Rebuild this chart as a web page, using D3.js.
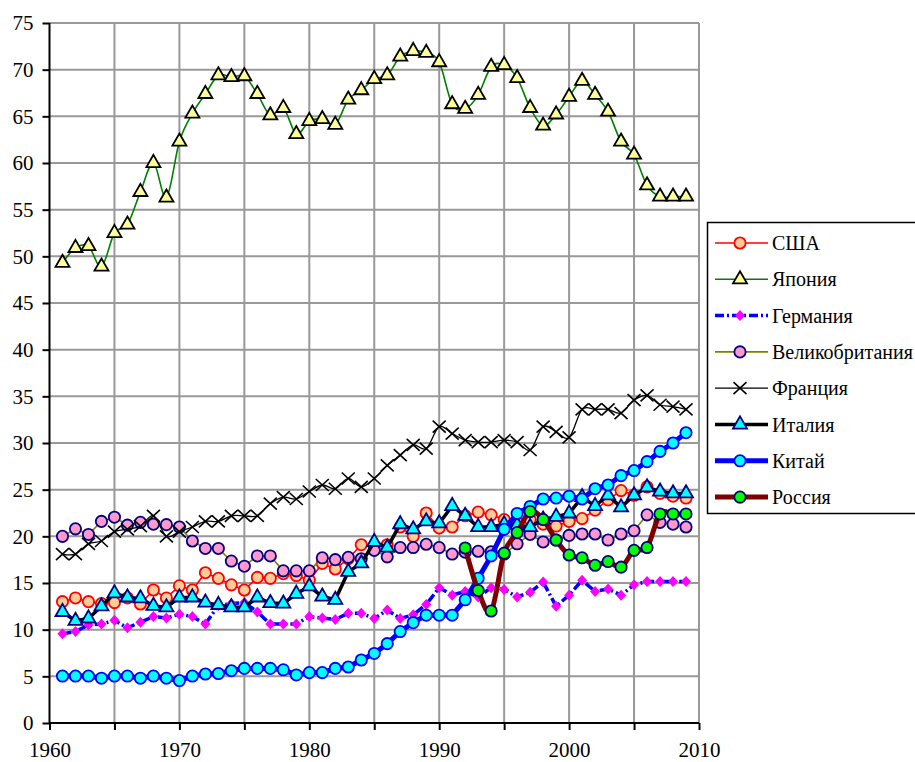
<!DOCTYPE html>
<html>
<head>
<meta charset="utf-8">
<script src="https://cdn.jsdelivr.net/npm/d3@7"></script>
<style>
  body { margin: 0; background: #fff; overflow: hidden; }
  svg { display: block; }
  svg text { font-family: "Liberation Serif", "Times New Roman", serif; }
</style>
</head>
<body>
<div id="chart"></div>
<script>
const years = d3.range(1961, 2010);
const russiaYears = d3.range(1992, 2010);
const xTicks = d3.range(1960, 2011, 5);
const yTicks = d3.range(0, 76, 5);

const usa = [13.0,13.4,13.0,12.8,12.9,13.4,12.75,14.25,13.4,14.7, 14.25,16.1,15.5,14.8,14.25,15.6,15.5,16.0,15.8,15.3,
  17.1,16.5,17.6,19.1,18.9,19.1,21.0,20.0,22.5,20.9, 21.0,22.2,22.6,22.3,21.8,21.5,21.8,21.3,21.1,21.6,
  21.9,22.8,23.9,24.9,24.4,25.3,24.6,24.3,24.1];
const japan = [49.3,50.9,51.1,48.9,52.5,53.4,56.9,60.0,56.3,62.3, 65.3,67.4,69.4,69.2,69.3,67.4,65.1,65.9,63.1,64.5,
  64.7,64.1,66.8,67.8,69.0,69.4,71.4,72.0,71.8,70.8, 66.3,65.8,67.3,70.3,70.5,69.1,65.9,64.0,65.2,67.1,
  68.8,67.3,65.5,62.3,60.9,57.6,56.4,56.4,56.4];
const germany = [9.55,9.8,10.5,10.6,11.0,10.2,10.8,11.4,11.25,11.65, 11.4,10.6,12.6,12.8,12.9,11.9,10.6,10.6,10.6,11.4,
  11.25,11.1,11.75,11.75,11.2,12.1,11.2,11.6,12.7,14.5, 13.7,14.1,13.5,14.5,14.3,13.5,14.0,15.1,12.5,13.7,
  15.3,14.1,14.35,13.7,14.8,15.15,15.15,15.15,15.15];
const uk = [20.0,20.8,20.2,21.6,22.05,21.2,21.5,21.3,21.25,21.0, 19.5,18.7,18.7,17.35,16.8,17.9,17.9,16.3,16.3,16.3,
  17.7,17.5,17.75,17.6,18.5,17.8,18.8,18.8,19.15,18.8, 18.1,18.3,18.4,18.35,18.1,19.2,20.2,19.4,19.6,20.1,
  20.25,20.25,19.6,20.25,20.6,22.3,21.5,21.3,21.0];
const france = [18.1,18.1,19.2,19.5,20.5,20.75,21.1,22.2,20.0,20.5, 21.0,21.6,21.6,22.2,22.2,22.2,23.5,24.2,24.0,24.8,
  25.5,25.1,26.2,25.3,26.2,27.6,28.7,29.8,29.4,31.75, 31.0,30.3,30.1,30.1,30.3,30.1,29.25,31.75,31.2,30.6,
  33.6,33.6,33.6,33.2,34.6,35.1,34.1,33.9,33.6];
const italy = [11.9,10.95,11.2,12.5,13.9,13.45,13.35,12.55,12.4,13.45, 13.45,12.9,12.65,12.4,12.4,13.45,12.85,12.8,13.85,14.65,
  13.55,13.2,16.2,17.1,19.4,18.8,21.3,20.75,21.6,21.4, 23.25,22.2,21.0,21.0,21.3,21.2,21.0,21.8,22.1,22.45,
  24.2,23.25,24.4,23.1,24.4,25.25,24.8,24.6,24.6];
const china = [5.03,5.03,5.03,4.8,5.03,5.03,4.8,5.03,4.8,4.55, 5.03,5.25,5.3,5.6,5.85,5.85,5.85,5.7,5.15,5.4,
  5.4,5.85,6.0,6.75,7.45,8.5,9.8,10.75,11.55,11.55, 11.55,13.2,15.5,17.9,20.75,22.45,23.2,24.0,24.1,24.3,
  24.0,25.1,25.5,26.5,27.05,28.0,29.1,30.0,31.1];
const russia = [18.75,14.2,12.0,18.2,20.4,22.65,21.8,19.6,18.0,17.7,16.9,17.3,16.7,18.5,18.8,22.4,22.4,22.4];

const width = 915;
const height = 762;
const margin = { top: 23, right: 216, bottom: 39, left: 49.5 };

const series = [
  { name: 'США', yrs: years, vals: usa, color: '#ff0000', w: 1.6, curve: d3.curveLinear, mark: 'circle', fill: '#ffcc99', mstroke: '#ff0000' },
  { name: 'Япония', yrs: years, vals: japan, color: '#008000', w: 1.6, curve: d3.curveCardinal.tension(0), mark: 'triangle', fill: '#ffff99', mstroke: '#000' },
  { name: 'Германия', yrs: years, vals: germany, color: '#0000ff', w: 3.5, dash: '9,3,2,3', curve: d3.curveLinear, mark: 'diamond', fill: '#ff00ff', mstroke: 'none' },
  { name: 'Великобритания', yrs: years, vals: uk, color: '#808000', w: 1.6, curve: d3.curveLinear, mark: 'circle', fill: '#ff99cc', mstroke: '#000080' },
  { name: 'Франция', yrs: years, vals: france, color: '#000', w: 1.3, curve: d3.curveCardinal.tension(0), mark: 'cross', fill: 'none', mstroke: '#000' },
  { name: 'Италия', yrs: years, vals: italy, color: '#000', w: 3.5, curve: d3.curveLinear, mark: 'triangle', fill: '#00ffff', mstroke: '#000080' },
  { name: 'Китай', yrs: years, vals: china, color: '#0000ff', w: 5, curve: d3.curveLinear, mark: 'circle', fill: '#00ffff', mstroke: '#0000ff' },
  { name: 'Россия', yrs: russiaYears, vals: russia, color: '#800000', w: 5, curve: d3.curveCardinal.tension(0), mark: 'circle', fill: '#00ff00', mstroke: '#000080' }
];

const svg = d3.select('#chart')
  .append('svg')
  .attr('width', width)
  .attr('height', height);

const x = d3.scaleLinear()
  .domain([1960, 2010])
  .range([margin.left, width - margin.right]);

const y = d3.scaleLinear()
  .domain([0, 75])
  .range([height - margin.bottom, margin.top]);

// gray grid, every 5 years / 5 units
svg.append('g')
  .attr('stroke', '#999')
  .attr('stroke-width', 2)
  .call(g => g.selectAll('.gx').data(xTicks.slice(1)).join('line')
    .attr('x1', d => x(d)).attr('x2', d => x(d))
    .attr('y1', y(0)).attr('y2', y(75)))
  .call(g => g.selectAll('.gy').data(yTicks.slice(1)).join('line')
    .attr('x1', x(1960)).attr('x2', x(2010))
    .attr('y1', d => y(d)).attr('y2', d => y(d)));

function yAxis(g) {
  g.attr('transform', `translate(${margin.left},0)`)
    .call(d3.axisLeft(y).tickValues(yTicks).tickSize(7).tickPadding(9))
    .attr('font-size', '21px')
    .call(g => g.select('.domain').attr('stroke-width', 2).attr('d', `M0,${y(0)}V${y(75)}`))
    .call(g => g.selectAll('.tick line').attr('stroke-width', 2));
}

function xAxis(g) {
  g.attr('transform', `translate(0,${height - margin.bottom})`)
    .call(d3.axisBottom(x).tickValues(xTicks).tickSize(7).tickPadding(12)
      .tickFormat(d => d % 10 === 0 ? d : ''))
    .attr('font-size', '21px')
    .call(g => g.select('.domain').attr('stroke-width', 2).attr('d', `M${x(1960)},0H${x(2010)}`))
    .call(g => g.selectAll('.tick line').attr('stroke-width', 2));
}

svg.append('g').call(xAxis);
svg.append('g').call(yAxis);

function markPath(type) {
  if (type === 'circle') return d3.symbol(d3.symbolCircle, 100)();
  if (type === 'triangle') return d3.symbol(d3.symbolTriangle, 85)();
  if (type === 'diamond') return 'M0,-5.5L5,0L0,5.5L-5,0Z';
  return 'M-6.5,-6L6.5,6M-6.5,6L6.5,-6';
}

function drawMarks(g, s, pts) {
  g.selectAll('path.m')
    .data(pts)
    .join('path')
      .attr('class', 'm')
      .attr('transform', d => `translate(${d[0]},${d[1]})`)
      .attr('d', markPath(s.mark))
      .attr('fill', s.fill)
      .attr('stroke', s.mstroke)
      .attr('stroke-width', s.mark === 'cross' ? 1.6 : 1.8);
}

series.forEach(s => {
  const pts = s.yrs.map((yr, i) => [x(yr), y(s.vals[i])]);
  const g = svg.append('g');
  g.append('path')
    .attr('d', d3.line().curve(s.curve)(pts))
    .attr('fill', 'none')
    .attr('stroke', s.color)
    .attr('stroke-width', s.w)
    .attr('stroke-dasharray', s.dash || null)
    .attr('stroke-linejoin', 'round');
  drawMarks(g, s, pts);
});

// legend
const legend = svg.append('g').attr('transform', 'translate(707,222)');
legend.append('rect')
  .attr('x', 0.5).attr('y', 0.5)
  .attr('width', 260).attr('height', 291)
  .attr('fill', '#fff')
  .attr('stroke', '#000')
  .attr('stroke-width', 1.5);

series.forEach((s, i) => {
  const cy = 21 + i * 36.3;
  const item = legend.append('g');
  item.append('line')
    .attr('x1', 8).attr('x2', 61)
    .attr('y1', cy).attr('y2', cy)
    .attr('stroke', s.color)
    .attr('stroke-width', s.w)
    .attr('stroke-dasharray', s.dash || null);
  drawMarks(item, s, [[33, cy]]);
  item.append('text')
    .attr('x', 65)
    .attr('y', cy + 7)
    .attr('font-size', '20px')
    .text(s.name);
});
</script>
</body>
</html>
